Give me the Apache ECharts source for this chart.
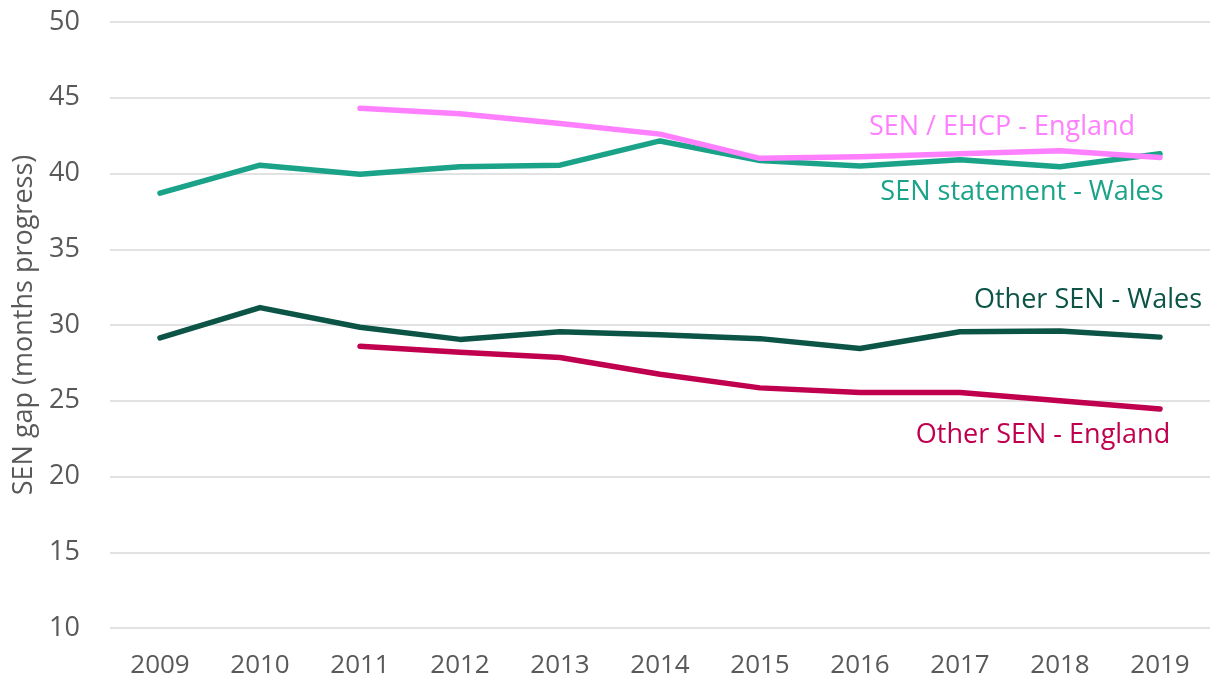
<!DOCTYPE html>
<html>
  <head>
    <meta charset="utf-8">
    <title>SEN gap</title>
    <style>
      html, body { margin: 0; padding: 0; background: #fff; }
      #chart { width: 1217px; height: 682px; }
    </style>
    <script src="https://cdn.jsdelivr.net/npm/echarts@6/dist/echarts.min.js"></script>
  </head>
  <body>
    <div id="chart"></div>
    <script>
      // data
      const years = ['2009','2010','2011','2012','2013','2014','2015','2016','2017','2018','2019'];
      const ehcpEngland = [null, null, 44.3, 43.95, 43.3, 42.6, 41.0, 41.1, 41.3, 41.5, 41.05];
      const statementWales = [38.7, 40.55, 39.95, 40.45, 40.55, 42.15, 40.85, 40.5, 40.9, 40.45, 41.3];
      const otherWales = [29.15, 31.15, 29.85, 29.05, 29.55, 29.35, 29.1, 28.45, 29.55, 29.6, 29.2];
      const otherEngland = [null, null, 28.6, 28.2, 27.85, 26.75, 25.85, 25.55, 25.55, 25.0, 24.45];

      const font = '"Open Sans", "Liberation Sans", sans-serif';
      const colours = {
        ehcp: '#ff80ff',
        statement: '#1aa388',
        otherW: '#0b5446',
        otherE: '#c0004f'
      };

      function line(name, data, color) {
        return {
          name: name,
          type: 'line',
          data: data,
          symbol: 'none',
          connectNulls: false,
          lineStyle: { color: color, width: 5.5, cap: 'round', join: 'round' },
          itemStyle: { color: color }
        };
      }

      function label(text, x, y, color) {
        return {
          type: 'text', x: x, y: y,
          style: { text: text, fill: color, font: '27px ' + font, textAlign: 'center', textVerticalAlign: 'middle' }
        };
      }

      const chart = echarts.init(document.getElementById('chart'));
      chart.setOption({
        animation: false,
        grid: { left: 110, right: 7, top: 22, bottom: 54 },
        xAxis: {
          type: 'category',
          data: years,
          axisLine: { show: false },
          axisTick: { show: false },
          axisLabel: {
            margin: 25,
            color: '#595959',
            fontSize: 26,
            fontFamily: '"Liberation Sans Narrow", "Open Sans", sans-serif'
          }
        },
        yAxis: {
          type: 'value',
          min: 10,
          max: 50,
          interval: 5,
          name: 'SEN gap (months progress)',
          nameLocation: 'middle',
          nameGap: 64,
          nameTextStyle: { color: '#595959', fontSize: 27, fontFamily: font },
          axisLine: { show: false },
          axisTick: { show: false },
          axisLabel: { margin: 30, color: '#595959', fontSize: 27, fontFamily: font },
          splitLine: { lineStyle: { color: '#d9d9d9', width: 1.5 } }
        },
        series: [
          line('Other SEN - England', otherEngland, colours.otherE),
          line('Other SEN - Wales', otherWales, colours.otherW),
          line('SEN statement - Wales', statementWales, colours.statement),
          line('SEN / EHCP - England', ehcpEngland, colours.ehcp)
        ],
        graphic: [
          label('SEN / EHCP - England', 1002, 127, colours.ehcp),
          label('SEN statement - Wales', 1022, 192, colours.statement),
          label('Other SEN - Wales', 1088, 300, colours.otherW),
          label('Other SEN - England', 1043, 435, colours.otherE)
        ]
      });
    </script>
  </body>
</html>
